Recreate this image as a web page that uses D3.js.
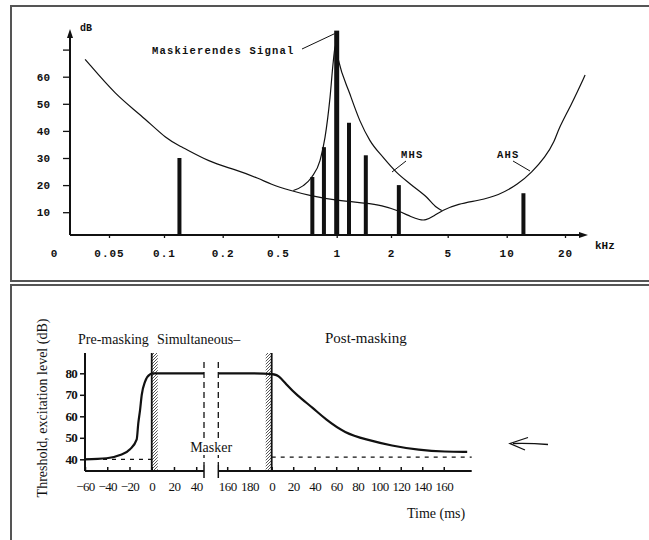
<!DOCTYPE html>
<html><head><meta charset="utf-8">
<script src="https://cdn.jsdelivr.net/npm/d3@7"></script>
<style>body{margin:0;background:#fff}svg{display:block}</style>
</head><body><svg id="c" width="649" height="540"></svg>
<script>
// ---------- Top chart data (frequency in kHz, level in dB) ----------
const freqTicks = [0.05, 0.1, 0.2, 0.5, 1, 2, 5, 10, 20];
const freqTickLabels = ["0.05", "0.1", "0.2", "0.5", "1", "2", "5", "10", "20"];
const dbTicks = [10, 20, 30, 40, 50, 60, 70];
const dbTickLabels = ["10", "20", "30", "40", "50", "60", ""];
const barFreq = [0.12, 0.75, 0.86, 1.0, 1.17, 1.45, 2.27, 12.2];
const barDb = [30, 23, 34, 77, 43, 31, 20, 17];
const ahsFreq = [0.037, 0.055, 0.074, 0.105, 0.121, 0.172, 0.238, 0.371, 0.438, 0.576, 0.729, 1.0, 1.466, 1.776, 2.24, 2.79, 3.19, 3.47, 4.07, 4.54, 5.66, 7.16, 9.06, 11.48, 13.46, 15.77, 17.76, 18.47, 21.65, 25.4];
const ahsDb = [66.4, 52.9, 46.2, 36.4, 34.5, 28.4, 26, 22.3, 20.4, 18, 16.1, 14.3, 13.3, 12.5, 10.6, 8.2, 7.2, 6.9, 8.8, 10.6, 13.1, 14.3, 16.1, 20.4, 24.7, 30.2, 36.4, 40.7, 49.9, 60.6];
const mhsFreq = [0.599, 0.674, 0.744, 0.821, 0.871, 0.924, 0.961, 0.985, 1.02, 1.185, 1.346, 1.53, 1.81, 2.19, 2.73, 3.56, 4.18, 4.54];
const mhsDb = [18, 19.8, 22.9, 29, 37.6, 52.3, 65.8, 71.5, 66.4, 53.5, 43.7, 36.4, 30.2, 24.7, 20.4, 15.5, 11.8, 10.6];

// ---------- Bottom chart data (time in ms from masker onset, level in dB) ----------
const timeTicks = [-60, -40, -20, 0, 20, 40, 160, 180, 200, 220, 240, 260, 280, 300, 320, 340, 360];
const timeTickLabels = ["\u221260", "\u221240", "\u221220", "0", "20", "40", "160", "180", "0", "20", "40", "60", "80", "100", "120", "140", "160"];
const levelTicks = [40, 50, 60, 70, 80];
const onsetTime = [-60, -40.5, -28.5, -19.5, -13.5, -12.1, -10.5, -9, -6, -1.6, 1.4, 20, 47];
const onsetLevel = [40, 40.5, 42, 44.7, 49.3, 56.7, 62.9, 69.9, 76.1, 79.5, 80, 80, 80];
const offsetTime = [152, 200, 206.2, 214, 223.3, 238.8, 249.7, 268.4, 287, 311.9, 336.7, 361.6, 381.8];
const offsetLevel = [80, 80, 79.2, 74.6, 69.9, 63.7, 58.7, 52.1, 49.3, 46.2, 44.3, 43.5, 43.5];
const quietLevelPre = 40, quietLevelPost = 41;
const maskerOn = 0, maskerOff = 200, breakStart = 47, breakEnd = 152, timeStart = -60, timeEnd = 386;

const svg = d3.select("#c");
const ink = "#111";

// panel frames
svg.append("rect").attr("x", 11).attr("y", 6).attr("width", 660).attr("height", 275)
  .attr("fill", "none").attr("stroke", "#555").attr("stroke-width", 2);
svg.append("rect").attr("x", 11).attr("y", 285).attr("width", 660).attr("height", 290)
  .attr("fill", "none").attr("stroke", "#555").attr("stroke-width", 2);

// ================= TOP CHART =================
const mono = "'Liberation Mono','DejaVu Sans Mono',monospace";
const xT = d3.scaleLog().domain(freqTicks).range([109, 164, 222.7, 278, 336.7, 391, 447.7, 506.7, 565]);
const yT = d3.scaleLinear().domain([0, 70]).range([239.3, 49.6]);
const baseY = 235, axisX = 70;
const topG = svg.append("g");

// y axis
const yAx = topG.append("g").attr("transform", `translate(${axisX},0)`)
  .call(d3.axisLeft(yT).tickValues(dbTicks).tickFormat((d, i) => dbTickLabels[i]).tickSize(7).tickPadding(13));
yAx.select(".domain").remove();
yAx.selectAll("line").attr("stroke", ink).attr("stroke-width", 1.3);
yAx.selectAll("text").attr("font-family", mono).attr("font-weight", "bold").attr("font-size", 11).attr("fill", ink);
topG.append("line").attr("x1", axisX).attr("x2", axisX).attr("y1", baseY).attr("y2", 36).attr("stroke", ink).attr("stroke-width", 2);
topG.append("path").attr("d", `M${axisX - 3},38 L${axisX + 3},38 L${axisX},29 Z`).attr("fill", ink);
topG.append("text").attr("x", 80).attr("y", 31).text("dB").attr("font-family", mono).attr("font-weight", "bold").attr("font-size", 10).attr("fill", ink);

// x axis
const xAx = topG.append("g").attr("transform", `translate(0,${baseY})`)
  .call(d3.axisBottom(xT).tickValues(freqTicks).tickFormat((d, i) => freqTickLabels[i]).tickSize(3).tickPadding(11));
xAx.select(".domain").remove();
xAx.selectAll("line").attr("stroke", ink).attr("stroke-width", 1.3);
xAx.selectAll("text").attr("font-family", mono).attr("font-weight", "bold").attr("font-size", 11).attr("letter-spacing", 1).attr("fill", ink);
topG.append("text").attr("x", xT(0.025)).attr("y", baseY + 21.5).attr("text-anchor", "middle").text("0")
  .attr("font-family", mono).attr("font-weight", "bold").attr("font-size", 11).attr("fill", ink);
topG.append("line").attr("x1", axisX).attr("x2", 580).attr("y1", baseY).attr("y2", baseY).attr("stroke", ink).attr("stroke-width", 2);
topG.append("path").attr("d", `M579,${baseY - 3} L579,${baseY + 3} L588,${baseY} Z`).attr("fill", ink);
topG.append("text").attr("x", 595).attr("y", baseY + 14).text("kHz").attr("font-family", mono).attr("font-weight", "bold").attr("font-size", 11).attr("fill", ink);

// bars
topG.selectAll("rect.bar").data(barFreq).join("rect").attr("class", "bar")
  .attr("x", (d, i) => xT(d) - (barDb[i] > 70 ? 2.5 : 2))
  .attr("width", (d, i) => barDb[i] > 70 ? 5 : 4)
  .attr("y", (d, i) => yT(barDb[i]))
  .attr("height", (d, i) => baseY - yT(barDb[i]))
  .attr("fill", ink);

// curves
const lineTs = d3.line().x(d => xT(d[0])).y(d => yT(d[1])).curve(d3.curveBasis);
const lineT = d3.line().x(d => xT(d[0])).y(d => yT(d[1])).curve(d3.curveMonotoneX);
topG.append("path").attr("d", lineTs(ahsFreq.map((f, i) => [f, ahsDb[i]])))
  .attr("fill", "none").attr("stroke", ink).attr("stroke-width", 1.2);
topG.append("path").attr("d", lineT(mhsFreq.map((f, i) => [f, mhsDb[i]])))
  .attr("fill", "none").attr("stroke", ink).attr("stroke-width", 1.2);

// annotations
const annot = (txt, x, y) => topG.append("text").attr("x", x).attr("y", y).text(txt)
  .attr("font-family", mono).attr("font-weight", "bold").attr("font-size", 10.5).attr("letter-spacing", 1.2).attr("fill", ink);
annot("Maskierendes Signal", 152, 54);
topG.append("line").attr("x1", 302).attr("y1", 49).attr("x2", xT(barFreq[3]) - 2).attr("y2", yT(barDb[3]) + 3).attr("stroke", ink).attr("stroke-width", 1);
annot("MHS", 401, 158);
topG.append("line").attr("x1", 406).attr("y1", 161).attr("x2", 392).attr("y2", 172).attr("stroke", ink).attr("stroke-width", 1);
annot("AHS", 497, 158);
topG.append("line").attr("x1", 513).attr("y1", 161).attr("x2", 530).attr("y2", 171).attr("stroke", ink).attr("stroke-width", 1);

// ================= BOTTOM CHART =================
const serif = "'Liberation Serif','DejaVu Serif',serif";
const xB = d3.scaleLinear().domain([timeStart, breakStart, breakEnd, maskerOff, timeEnd]).range([85, 204, 218.3, 271.7, 471.7]);
const yB = d3.scaleLinear().domain([40, 80]).range([459.3, 373.3]);
const axY = 471, axTop = 353;
const botG = svg.append("g");

const defs = svg.append("defs");
const pat = defs.append("pattern").attr("id", "hatch").attr("patternUnits", "userSpaceOnUse").attr("width", 3).attr("height", 3);
pat.append("path").attr("d", "M0,3 L3,0").attr("stroke", "#444").attr("stroke-width", 0.9);

// hatched bands at masker onset/offset
botG.append("rect").attr("x", xB(maskerOn)).attr("y", axTop).attr("width", 6).attr("height", axY - axTop).attr("fill", "url(#hatch)");
botG.append("rect").attr("x", xB(maskerOff) - 6).attr("y", axTop).attr("width", 6).attr("height", axY - axTop).attr("fill", "url(#hatch)");
[maskerOn, maskerOff].forEach(t => botG.append("line").attr("x1", xB(t)).attr("x2", xB(t)).attr("y1", axTop).attr("y2", axY)
  .attr("stroke", ink).attr("stroke-width", 1.8));

// break dashed lines
[breakStart, breakEnd].forEach(t => {
  botG.append("line").attr("x1", xB(t)).attr("x2", xB(t)).attr("y1", 362).attr("y2", axY - 6)
    .attr("stroke", ink).attr("stroke-width", 1.3).attr("stroke-dasharray", "6,4");
  botG.append("line").attr("x1", xB(t)).attr("x2", xB(t)).attr("y1", axY - 6).attr("y2", axY + 7)
    .attr("stroke", ink).attr("stroke-width", 1.5);
});

// y axis
const yAxB = botG.append("g").attr("transform", "translate(85,0)")
  .call(d3.axisLeft(yB).tickValues(levelTicks).tickSize(5).tickPadding(3));
yAxB.select(".domain").remove();
yAxB.selectAll("line").attr("stroke", ink).attr("stroke-width", 1.5);
yAxB.selectAll("text").attr("font-family", serif).attr("font-weight", "bold").attr("font-size", 13).attr("letter-spacing", -0.8).attr("fill", ink);
botG.append("line").attr("x1", 85).attr("x2", 85).attr("y1", axTop).attr("y2", axY).attr("stroke", ink).attr("stroke-width", 2);

// x axis (broken)
const xAxB = botG.append("g").attr("transform", `translate(0,${axY})`)
  .call(d3.axisBottom(xB).tickValues(timeTicks).tickFormat((d, i) => timeTickLabels[i]).tickSizeInner(-4).tickSizeOuter(0).tickPadding(11));
xAxB.select(".domain").remove();
xAxB.selectAll("line").attr("stroke", ink).attr("stroke-width", 1.5);
xAxB.selectAll("text").attr("font-family", serif).attr("font-size", 13).attr("letter-spacing", -0.6).attr("fill", ink);
botG.append("line").attr("x1", xB(timeStart)).attr("x2", xB(breakStart)).attr("y1", axY).attr("y2", axY).attr("stroke", ink).attr("stroke-width", 2);
botG.append("line").attr("x1", xB(breakEnd)).attr("x2", xB(timeEnd)).attr("y1", axY).attr("y2", axY).attr("stroke", ink).attr("stroke-width", 2);

// quiet threshold dashed lines
botG.append("line").attr("x1", xB(timeStart)).attr("x2", xB(maskerOn)).attr("y1", yB(quietLevelPre)).attr("y2", yB(quietLevelPre))
  .attr("stroke", ink).attr("stroke-width", 1.2).attr("stroke-dasharray", "4,5");
botG.append("line").attr("x1", xB(maskerOff)).attr("x2", xB(timeEnd)).attr("y1", yB(quietLevelPost)).attr("y2", yB(quietLevelPost))
  .attr("stroke", ink).attr("stroke-width", 1.2).attr("stroke-dasharray", "4,5");

// threshold curves
const lineB = d3.line().x(d => xB(d[0])).y(d => yB(d[1])).curve(d3.curveMonotoneX);
const lineBs = d3.line().x(d => xB(d[0])).y(d => yB(d[1])).curve(d3.curveBasis);
botG.append("path").attr("d", lineB(onsetTime.map((t, i) => [t, onsetLevel[i]])))
  .attr("fill", "none").attr("stroke", ink).attr("stroke-width", 2.2);
botG.append("path").attr("d", lineBs(offsetTime.map((t, i) => [t, offsetLevel[i]])))
  .attr("fill", "none").attr("stroke", ink).attr("stroke-width", 2.2);

// labels
const lab = (txt, x, y, size, anchor) => botG.append("text").attr("x", x).attr("y", y).text(txt)
  .attr("font-family", serif).attr("font-size", size).attr("text-anchor", anchor || "start").attr("fill", ink);
lab("Pre-masking", 78, 344, 14);
lab("Simultaneous\u2013", 157, 344, 14);
lab("Post-masking", 325, 343, 15);
const mx = (xB(breakStart) + xB(breakEnd)) / 2;
botG.append("rect").attr("x", mx - 23).attr("y", 440).attr("width", 46).attr("height", 15).attr("fill", "#fff");
lab("Masker", mx, 452, 14, "middle");
lab("Time (ms)", 407, 518, 14);
botG.append("text").attr("transform", "translate(47,408) rotate(-90)").attr("text-anchor", "middle")
  .text("Threshold, excitation level (dB)").attr("font-family", serif).attr("font-size", 14).attr("fill", ink);

// hand-drawn arrow
botG.append("path").attr("d", "M513,443.5 Q530,443 548,444.5").attr("fill", "none").attr("stroke", ink).attr("stroke-width", 1.3);
botG.append("path").attr("d", "M528,437.5 L510,443.5 L525,450").attr("fill", "none").attr("stroke", ink).attr("stroke-width", 1.3);
</script>
</body></html>
